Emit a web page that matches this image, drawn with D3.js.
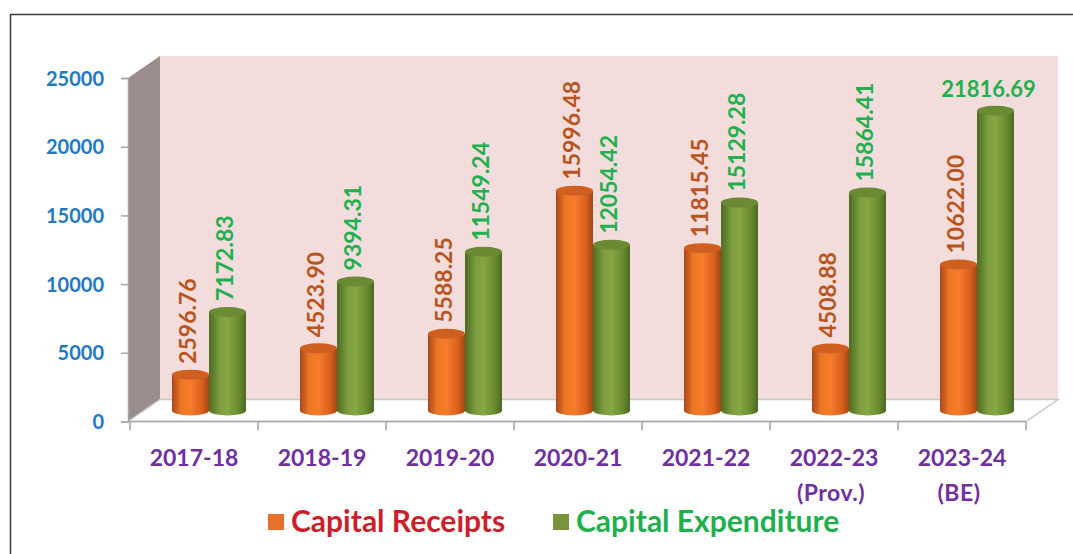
<!DOCTYPE html>
<html>
<head>
<meta charset="utf-8">
<script src="https://cdn.jsdelivr.net/npm/d3@7"></script>
<style>
  body { margin: 0; background: #fff; }
  text { font-family: Lato, "Open Sans", sans-serif; font-weight: bold; }
</style>
</head>
<body>
<svg width="1073" height="554"></svg>
<script>
var years = ["2017-18", "2018-19", "2019-20", "2020-21", "2021-22", "2022-23", "2023-24"];
var subLabels = ["", "", "", "", "", "(Prov.)", "(BE)"];
var receipts = [2596.76, 4523.90, 5588.25, 15996.48, 11815.45, 4508.88, 10622.00];
var expenditure = [7172.83, 9394.31, 11549.24, 12054.42, 15129.28, 15864.41, 21816.69];
var yTicks = [0, 5000, 10000, 15000, 20000, 25000];
var seriesNames = ["Capital Receipts", "Capital Expenditure"];

var svg = d3.select("svg");

// outer frame (right/bottom edges fall outside the picture)
svg.append("rect")
  .attr("x", 10.5).attr("y", 14.5)
  .attr("width", 1200).attr("height", 700)
  .attr("fill", "none").attr("stroke", "#3a3a3a").attr("stroke-width", 1.5);

var dx = 32, dy = -22; // depth offset of the 3d box

var y = d3.scaleLinear().domain([0, 25000]).range([421.5, 78]);
var x = d3.scaleBand().domain(years).range([130, 1026]);

var defs = svg.append("defs");
function grad(id, stops) {
  var g = defs.append("linearGradient").attr("id", id)
    .attr("x1", "0%").attr("x2", "100%").attr("y1", "0%").attr("y2", "0%");
  stops.forEach(function(s) {
    g.append("stop").attr("offset", s[0]).attr("stop-color", s[1]);
  });
}
grad("gOrange", [["0%", "#a9481a"], ["25%", "#ee7727"], ["50%", "#f47c2a"], ["80%", "#d9631f"], ["100%", "#a24517"]]);
grad("gGreen", [["0%", "#4f6c24"], ["30%", "#7c9e3e"], ["50%", "#84a643"], ["80%", "#6a8b32"], ["100%", "#4c6823"]]);

var y0 = y(0), yTop = y(25000);
var left = 128, right = 1026;

// side wall
svg.append("path")
  .attr("d", "M" + left + "," + yTop + "L" + (left + dx) + "," + (yTop + dy) +
    "L" + (left + dx) + "," + (y0 + dy) + "L" + left + "," + y0 + "Z")
  .attr("fill", "#9b8d8b");

// back wall
svg.append("rect")
  .attr("x", left + dx).attr("y", yTop + dy)
  .attr("width", right - left).attr("height", y0 - yTop)
  .attr("fill", "#f2dddc");

// floor
svg.append("path")
  .attr("d", "M" + left + "," + y0 + "L" + (left + dx) + "," + (y0 + dy) +
    "L" + (right + dx) + "," + (y0 + dy) + "L" + right + "," + y0 + "Z")
  .attr("fill", "#ffffff").attr("stroke", "#c8c8c8").attr("stroke-width", 1.5);

// y axis
var yAxis = svg.append("g")
  .attr("transform", "translate(" + left + ",0)")
  .call(d3.axisLeft(y).tickValues(yTicks).tickSize(7).tickPadding(17).tickFormat(d3.format("d")));
yAxis.select(".domain").attr("stroke", "#a6a6a6").attr("stroke-width", 1.5);
yAxis.selectAll(".tick line").attr("stroke", "#a6a6a6").attr("stroke-width", 1.5);
yAxis.selectAll(".tick text")
  .attr("fill", "#2179c4").style("font-size", "20px").style("font-family", "Lato, sans-serif")
  .style("font-weight", "bold").attr("dy", "0.35em");

// x axis line + ticks at band edges
svg.append("line")
  .attr("x1", left).attr("x2", right).attr("y1", y0).attr("y2", y0)
  .attr("stroke", "#a6a6a6").attr("stroke-width", 1.5);
var edges = years.map(function(d) { return x(d); }).concat([x.range()[1]]);
svg.selectAll(".xtick").data(edges).enter().append("line")
  .attr("x1", function(d) { return d; }).attr("x2", function(d) { return d; })
  .attr("y1", y0).attr("y2", y0 + 9)
  .attr("stroke", "#a6a6a6").attr("stroke-width", 1.5);

svg.selectAll(".xlab").data(years).enter().append("text")
  .attr("x", function(d) { return x(d) + x.bandwidth() / 2; })
  .attr("y", 466)
  .attr("text-anchor", "middle")
  .attr("fill", "#7030a0").style("font-size", "23px")
  .text(function(d) { return d; });
svg.selectAll(".xsub").data(subLabels).enter().append("text")
  .attr("x", function(d, i) { return x(years[i]) + x.bandwidth() / 2 - 3; })
  .attr("y", 501)
  .attr("text-anchor", "middle")
  .attr("fill", "#7030a0").style("font-size", "23px")
  .style("letter-spacing", "0.5px")
  .text(function(d) { return d; });

// cylinders
var bw = 37, ry = 5;
var base = y0 + dy / 2;
var bars = [];
years.forEach(function(d, i) {
  var c = x(d) + x.bandwidth() / 2 + dx / 2 - 1;
  bars.push({ s: 0, i: i, v: receipts[i], x0: c - bw, fill: "url(#gOrange)", top: "#cf5f1f", lab: "#b9541d" });
  bars.push({ s: 1, i: i, v: expenditure[i], x0: c, fill: "url(#gGreen)", top: "#6a8a33", lab: "#22b04e" });
});

var cyl = svg.selectAll(".cyl").data(bars).enter().append("g");
cyl.append("path")
  .attr("d", function(b) {
    var h = y0 - y(b.v), yt = base - h, rx = bw / 2;
    return "M" + b.x0 + "," + yt + "L" + b.x0 + "," + base +
      "A" + rx + "," + ry + " 0 0 0 " + (b.x0 + bw) + "," + base +
      "L" + (b.x0 + bw) + "," + yt + "Z";
  })
  .attr("fill", function(b) { return b.fill; });
cyl.append("ellipse")
  .attr("cx", function(b) { return b.x0 + bw / 2; })
  .attr("cy", function(b) { return base - (y0 - y(b.v)); })
  .attr("rx", bw / 2).attr("ry", ry)
  .attr("fill", function(b) { return b.top; });

// value labels
cyl.append("text")
  .attr("transform", function(b) {
    var yt = base - (y0 - y(b.v));
    if (b.v > 20000) return "translate(" + (b.x0 + bw / 2 - 7) + "," + (yt - ry - 9) + ")";
    return "translate(" + (b.x0 + bw / 2 - 3) + "," + (yt - ry - 6) + ") rotate(-90)";
  })
  .attr("text-anchor", function(b) { return b.v > 20000 ? "middle" : "start"; })
  .attr("dy", function(b) { return b.v > 20000 ? 0 : "0.35em"; })
  .attr("fill", function(b) { return b.lab; })
  .style("font-size", function(b) { return b.v > 20000 ? "22px" : "23px"; })
  .text(function(b) { return d3.format(".2f")(b.v); });

// legend
var legColors = ["#e8702a", "#77933c"];
var legText = ["#cc1f2b", "#1fb04e"];
var legX = [268, 553];
var leg = svg.selectAll(".leg").data(seriesNames).enter().append("g")
  .attr("transform", function(d, i) { return "translate(" + legX[i] + ",514)"; });
leg.append("rect").attr("width", 16).attr("height", 16)
  .attr("fill", function(d, i) { return legColors[i]; });
leg.append("text").attr("x", 23).attr("y", 18)
  .attr("fill", function(d, i) { return legText[i]; })
  .style("font-size", "30px")
  .text(function(d) { return d; });
</script>
</body>
</html>
